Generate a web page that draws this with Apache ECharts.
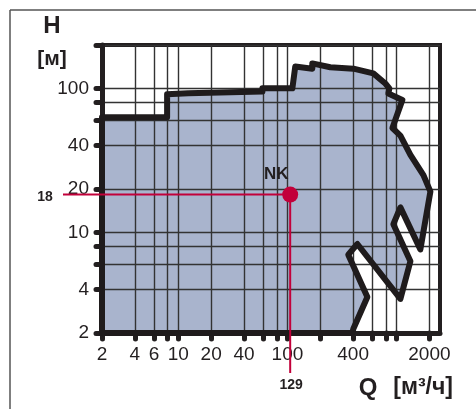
<!DOCTYPE html>
<html>
<head>
<meta charset="utf-8">
<script src="https://cdn.jsdelivr.net/npm/echarts@6/dist/echarts.min.js"></script>
<style>
  html, body { margin: 0; padding: 0; background: #fff; }
  #chart { width: 476px; height: 409px; }
</style>
</head>
<body>
<div id="chart"></div>
<script>
// outline of the pump range (Q in m3/h, H in m)
var regionQ = [2, 7.9, 7.9, 12.3, 59, 59, 111, 118, 169, 169, 247, 402, 612, 789, 859, 841, 1130, 916, 1084, 1339, 1762, 2042, 1652, 1084, 935, 1339, 1084, 437, 361, 540, 402, 393, 2];
var regionH = [63, 63, 91, 92.4, 95, 100, 100, 142, 137, 149, 140, 137, 127, 108, 100, 92, 83, 53, 47, 34.5, 25, 19.2, 7.6, 14.9, 11.4, 6.3, 3.45, 8.3, 7.0, 3.56, 2.14, 2, 2];

var xTicks = [2, 4, 6, 8, 10, 20, 40, 60, 80, 100, 200, 400, 600, 800, 1000, 2000];
var xLabels = [2, 4, 6, 10, 20, 40, 100, 400, 2000];
var yTicks = [2, 4, 6, 8, 10, 20, 40, 60, 80, 100, 200];
var yLabels = [2, 4, 10, 20, 40, 100];

// duty point, its name and the values written at the ends of the guide lines
var dutyPoint = [106, 18.3];
var dutyName = 'NK';
var dutyTexts = ['129', '18'];

var ink = '#231f20';
var red = '#c2003a';
var fill = '#a9b4cd';
var font = 'Liberation Sans';

var chart = echarts.init(document.getElementById('chart'));

function regionPoints(api) {
  return regionQ.map(function (q, i) {
    return api.coord([q, regionH[i]]);
  });
}

function plain(v) {
  return String(Math.round(v));
}

function boldText(x, y, text, size, align) {
  return {
    type: 'text', x: x, y: y, silent: true,
    style: {
      text: text, fontFamily: font, fontWeight: 'bold', fontSize: size,
      fill: ink, align: align || 'center', verticalAlign: 'middle'
    }
  };
}

chart.setOption({
  animation: false,
  backgroundColor: '#fff',
  grid: {
    left: 102, top: 45, right: 36, bottom: 76,
    show: true,
    borderColor: ink,
    borderWidth: 4,
    backgroundColor: 'transparent'
  },
  xAxis: {
    type: 'log',
    logBase: 10,
    min: 2,
    max: 2500,
    axisLine: { lineStyle: { color: ink, width: 5 } },
    axisTick: {
      customValues: xTicks,
      length: 6,
      lineStyle: { color: ink, width: 5, cap: 'round' }
    },
    axisLabel: {
      customValues: xLabels,
      formatter: plain,
      margin: 12,
      fontFamily: font,
      fontSize: 19,
      color: ink
    },
    splitLine: { show: true, lineStyle: { color: '#333', width: 1.4 } },
    minorTick: { show: false }
  },
  yAxis: {
    type: 'log',
    logBase: 10,
    min: 2,
    max: 200,
    axisLine: { lineStyle: { color: ink, width: 5 } },
    axisTick: {
      customValues: yTicks,
      length: 6,
      lineStyle: { color: ink, width: 5, cap: 'round' }
    },
    axisLabel: {
      customValues: yLabels,
      formatter: plain,
      margin: 13,
      fontFamily: font,
      fontSize: 19,
      color: ink
    },
    splitLine: { show: true, lineStyle: { color: '#333', width: 1.4 } },
    minorTick: { show: false }
  },
  graphic: [
    { type: 'line', shape: { x1: 10, y1: 10, x2: 476, y2: 10 }, style: { stroke: '#555', lineWidth: 1.5 }, silent: true },
    { type: 'line', shape: { x1: 10, y1: 10, x2: 10, y2: 409 }, style: { stroke: '#555', lineWidth: 1.5 }, silent: true },
    boldText(52, 26, 'H', 24),
    boldText(52, 59, '[м]', 21),
    boldText(368, 388, 'Q', 24),
    boldText(453, 388, '[м³/ч]', 23, 'right')
  ],
  series: [
    {
      type: 'custom',
      z: -1,
      clip: false,
      silent: true,
      data: [[2, 2]],
      renderItem: function (params, api) {
        return { type: 'polygon', shape: { points: regionPoints(api) }, style: { fill: fill } };
      }
    },
    {
      type: 'custom',
      z: 2,
      clip: false,
      silent: true,
      data: [[2, 2]],
      renderItem: function (params, api) {
        return {
          type: 'polygon',
          shape: { points: regionPoints(api) },
          style: { fill: 'none', stroke: '#1f1b1c', lineWidth: 6, lineJoin: 'round' }
        };
      }
    },
    {
      type: 'custom',
      z: 4,
      clip: false,
      silent: true,
      data: [dutyPoint],
      renderItem: function (params, api) {
        var p = api.coord([api.value(0), api.value(1)]);
        var cs = params.coordSys;
        var bottom = cs.y + cs.height;
        return {
          type: 'group',
          children: [
            { type: 'line', shape: { x1: cs.x - 39, y1: p[1], x2: p[0], y2: p[1] }, style: { stroke: red, lineWidth: 2 } },
            { type: 'line', shape: { x1: p[0], y1: p[1], x2: p[0], y2: bottom + 40 }, style: { stroke: red, lineWidth: 2 } },
            { type: 'circle', shape: { cx: p[0], cy: p[1], r: 8 }, style: { fill: red } },
            boldText(p[0] - 14, p[1] - 20, dutyName, 17),
            boldText(p[0] + 1, bottom + 52, dutyTexts[0], 14),
            boldText(cs.x - 57, p[1] + 3, dutyTexts[1], 14)
          ]
        };
      }
    }
  ]
});
</script>
</body>
</html>
